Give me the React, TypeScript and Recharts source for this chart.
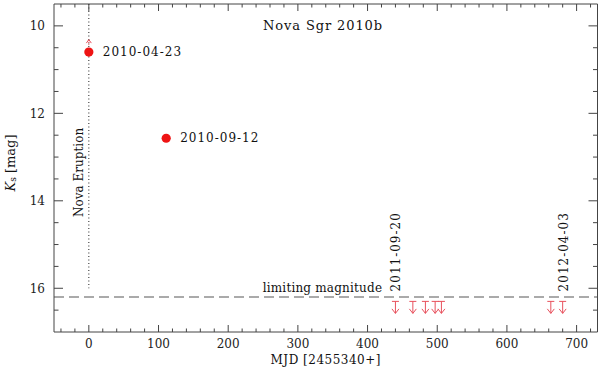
import { ScatterChart, Scatter, XAxis, YAxis, ReferenceLine } from 'recharts';

const FONT = '"DejaVu Serif", serif';
const AXIS = '#444';
const RED = '#ee1414';
const LIMIT_RED = '#e8505c';

// Ks detections
const detectionMjd = [0, 111];
const detectionMag = [10.6, 12.57];
const detectionDates = ['2010-04-23', '2010-09-12'];
const detectionRising = [true, false];

// non-detections (upper limits)
const limitMjd = [440, 465, 483, 497, 506, 663, 680];
const limitMag = [16.3, 16.3, 16.3, 16.3, 16.3, 16.3, 16.3];
const limitDates = ['2011-09-20', '', '', '', '', '', '2012-04-03'];

const limitingMag = 16.2;
const eruptionMjd = 0;
const eruptionLineEnd = 16.0;

// annotation anchors (data coords)
const titleText = 'Nova Sgr 2010b';
const titlePos = { x: 336, y: 10.09 };
const eruptionText = 'Nova Eruption';
const eruptionPos = { x: 0, y: 13.35 };
const limitText = 'limiting magnitude';
const limitTextPos = { x: 421, y: 16.2 };

const xDomain = [-50, 730];
const yDomain = [9.5, 17];
const xMajor = [0, 100, 200, 300, 400, 500, 600, 700];
const xMinor = [-40, -20, 20, 40, 60, 80, 120, 140, 160, 180, 220, 240, 260, 280, 320, 340, 360, 380, 420, 440, 460, 480, 520, 540, 560, 580, 620, 640, 660, 680, 720];
const yMajor = [10, 12, 14, 16];
const yMinor = [10.5, 11, 11.5, 12.5, 13, 13.5, 14.5, 15, 15.5, 16.5];

const detections = detectionMjd.map((x, i) => ({ x, y: detectionMag[i], date: detectionDates[i], rising: detectionRising[i] }));
const limits = limitMjd.map((x, i) => ({ x, y: limitMag[i], date: limitDates[i] }));

// tick marks on all four sides of the frame
const bottomMajor = xMajor.map((x) => ({ x, y: yDomain[1] }));
const topMajor = xMajor.map((x) => ({ x, y: yDomain[0] }));
const bottomMinor = xMinor.map((x) => ({ x, y: yDomain[1] }));
const topMinor = xMinor.map((x) => ({ x, y: yDomain[0] }));
const leftMajor = yMajor.map((y) => ({ x: xDomain[0], y }));
const rightMajor = yMajor.map((y) => ({ x: xDomain[1], y }));
const leftMinor = yMinor.map((y) => ({ x: xDomain[0], y }));
const rightMinor = yMinor.map((y) => ({ x: xDomain[1], y }));

const tickStyle = { fill: '#222', fontSize: 12, fontFamily: FONT };

const makeTick = (dx: number, dy: number) => (props: any) => (
  <line x1={props.cx} y1={props.cy} x2={props.cx + dx} y2={props.cy + dy} stroke={AXIS} strokeWidth={1} />
);

const DetectionDot = (props: any) => {
  const { cx, cy, payload } = props;
  return (
    <g>
      {payload.rising && (
        <g stroke={LIMIT_RED} fill="none" strokeWidth={1}>
          <path d={`M${cx - 2.5},${cy - 9} L${cx},${cy - 12.5} L${cx + 2.5},${cy - 9}`} />
          <line x1={cx} y1={cy - 12} x2={cx} y2={cy - 6} strokeDasharray="1 1" />
        </g>
      )}
      <circle cx={cx} cy={cy} r={4.6} fill={RED} />
      <text x={cx + 14} y={cy} dominantBaseline="central" fontFamily={FONT} fontSize={12} letterSpacing={1} fill="#111">
        {payload.date}
      </text>
    </g>
  );
};

const LimitArrow = (props: any) => {
  const { cx, cy, payload } = props;
  return (
    <g>
      <g stroke={LIMIT_RED} fill="none" strokeWidth={1}>
        <line x1={cx - 3.5} y1={cy} x2={cx + 3.5} y2={cy} />
        <line x1={cx} y1={cy} x2={cx} y2={cy + 12} />
        <path d={`M${cx - 3.5},${cy + 7.5} L${cx},${cy + 12} L${cx + 3.5},${cy + 7.5}`} />
      </g>
      {payload.date && (
        <text
          x={cx + 1}
          y={cy - 10}
          transform={`rotate(-90 ${cx + 1} ${cy - 10})`}
          dominantBaseline="central"
          fontFamily={FONT}
          fontSize={12}
          letterSpacing={1}
          fill="#111"
        >
          {payload.date}
        </text>
      )}
    </g>
  );
};

const TitleMark = (props: any) => (
  <text x={props.cx} y={props.cy} textAnchor="middle" fontFamily={FONT} fontSize={13} letterSpacing={0.9} fill="#111">
    {titleText}
  </text>
);

const EruptionMark = (props: any) => (
  <text
    x={props.cx - 10}
    y={props.cy}
    transform={`rotate(-90 ${props.cx - 10} ${props.cy})`}
    textAnchor="middle"
    dominantBaseline="central"
    fontFamily={FONT}
    fontSize={12}
    fill="#111"
  >
    {eruptionText}
  </text>
);

const LimitTextMark = (props: any) => (
  <text x={props.cx} y={props.cy - 5} textAnchor="end" fontFamily={FONT} fontSize={12} letterSpacing={0.2} fill="#111">
    {limitText}
  </text>
);

const YLabel = (props: any) => {
  const { viewBox } = props;
  const y = viewBox.y + viewBox.height / 2 - 5;
  return (
    <text x={10} y={y} transform={`rotate(-90 10 ${y})`} textAnchor="middle" dominantBaseline="central" fontFamily={FONT} fontSize={13} fill="#111">
      <tspan fontStyle="italic">K</tspan>
      <tspan fontSize={9} dy={3}>s</tspan>
      <tspan dy={-3}> [mag]</tspan>
    </text>
  );
};

const XLabel = (props: any) => {
  const { viewBox } = props;
  return (
    <text x={viewBox.x + viewBox.width / 2} y={viewBox.y + viewBox.height - 6} textAnchor="middle" fontFamily={FONT} fontSize={12} letterSpacing={0.5} fill="#111">
      MJD [2455340+]
    </text>
  );
};

const App = () => {
  return (
    <div style={{ position: 'absolute', left: 0, top: 0, width: 600, height: 370, background: '#fff' }}>
      <ScatterChart width={600} height={370} margin={{ top: 3, right: 1.5, bottom: 0, left: 0 }}>
        <XAxis xAxisId="x" type="number" dataKey="x" domain={xDomain} allowDataOverflow ticks={xMajor} interval={0}
          tickSize={0} tickMargin={7} height={38} tick={tickStyle} tickLine={false} axisLine={{ stroke: AXIS }}
          label={<XLabel />} />
        <XAxis xAxisId="xt" type="number" orientation="top" domain={xDomain} allowDataOverflow ticks={xMajor} interval={0}
          height={1} tick={false} tickLine={false} axisLine={{ stroke: AXIS }} />
        <YAxis yAxisId="y" type="number" dataKey="y" domain={yDomain} reversed allowDataOverflow ticks={yMajor} interval={0}
          tickSize={0} tickMargin={9} width={54} tick={tickStyle} tickLine={false} axisLine={{ stroke: AXIS }}
          label={<YLabel />} />
        <YAxis yAxisId="yr" type="number" orientation="right" domain={yDomain} reversed allowDataOverflow ticks={yMajor} interval={0}
          width={1} tick={false} tickLine={false} axisLine={{ stroke: AXIS }} />

        <ReferenceLine xAxisId="x" yAxisId="y" segment={[{ x: eruptionMjd, y: yDomain[0] }, { x: eruptionMjd, y: eruptionLineEnd }]}
          stroke="#222" strokeDasharray="1 2.5" />
        <ReferenceLine xAxisId="x" yAxisId="y" y={limitingMag} stroke="#aaa" strokeWidth={2} strokeDasharray="10 5" />

        <Scatter xAxisId="x" yAxisId="y" data={bottomMajor} shape={makeTick(0, -7)} isAnimationActive={false} />
        <Scatter xAxisId="x" yAxisId="y" data={bottomMinor} shape={makeTick(0, -3.5)} isAnimationActive={false} />
        <Scatter xAxisId="x" yAxisId="y" data={topMajor} shape={makeTick(0, 7)} isAnimationActive={false} />
        <Scatter xAxisId="x" yAxisId="y" data={topMinor} shape={makeTick(0, 3.5)} isAnimationActive={false} />
        <Scatter xAxisId="x" yAxisId="y" data={leftMajor} shape={makeTick(9, 0)} isAnimationActive={false} />
        <Scatter xAxisId="x" yAxisId="y" data={leftMinor} shape={makeTick(4.5, 0)} isAnimationActive={false} />
        <Scatter xAxisId="x" yAxisId="y" data={rightMajor} shape={makeTick(-9, 0)} isAnimationActive={false} />
        <Scatter xAxisId="x" yAxisId="y" data={rightMinor} shape={makeTick(-4.5, 0)} isAnimationActive={false} />

        <Scatter xAxisId="x" yAxisId="y" data={[titlePos]} shape={TitleMark} isAnimationActive={false} />
        <Scatter xAxisId="x" yAxisId="y" data={[eruptionPos]} shape={EruptionMark} isAnimationActive={false} />
        <Scatter xAxisId="x" yAxisId="y" data={[limitTextPos]} shape={LimitTextMark} isAnimationActive={false} />
        <Scatter xAxisId="x" yAxisId="y" data={limits} shape={LimitArrow} isAnimationActive={false} />
        <Scatter xAxisId="x" yAxisId="y" data={detections} shape={DetectionDot} isAnimationActive={false} />
      </ScatterChart>
    </div>
  );
};

export default App;
